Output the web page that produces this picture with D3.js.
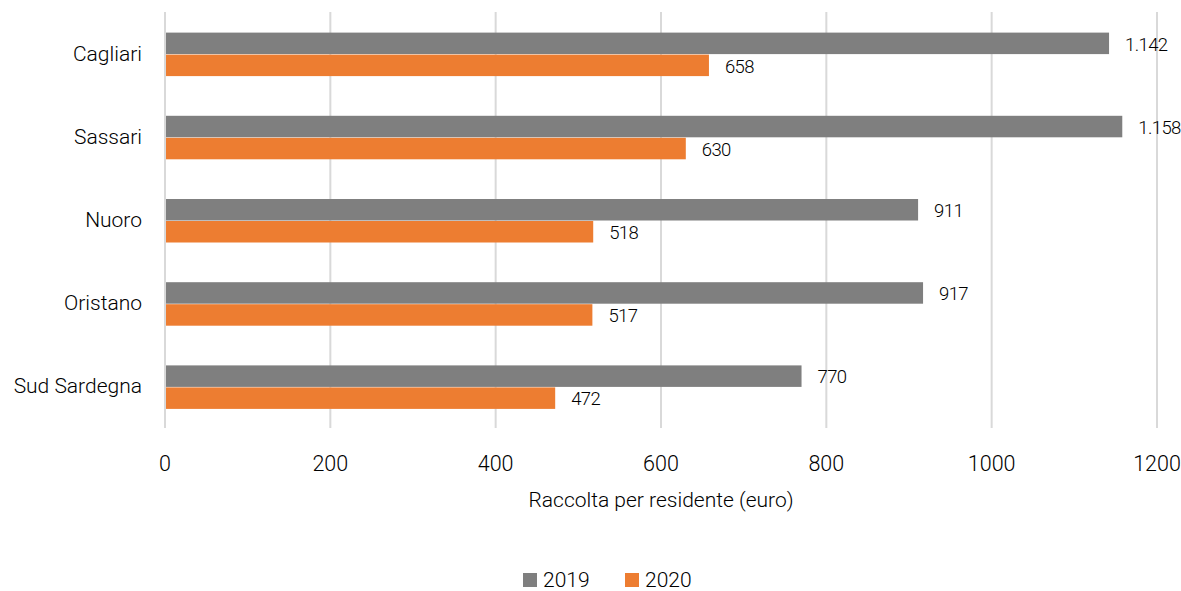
<!DOCTYPE html>
<html><head><meta charset="utf-8">
<script src="https://cdn.jsdelivr.net/npm/d3@7/dist/d3.min.js"></script>
<style>body{margin:0;background:#fff;} text{font-family:Roboto, Lato, sans-serif; font-weight:300; fill:#000;}</style>
</head><body><svg id="c" width="1181" height="591"></svg>
<script>
const categories = ["Cagliari","Sassari","Nuoro","Oristano","Sud Sardegna"];
const series = ["2019","2020"];
const values2019 = [1142,1158,911,917,770];
const values2020 = [658,630,518,517,472];
const labels2019 = ["1.142","1.158","911","917","770"];
const labels2020 = ["658","630","518","517","472"];
const tickValues = [0,200,400,600,800,1000,1200];
const colors = ["#7f7f7f","#ed7d31"];

const svg = d3.select("#c");
const x = d3.scaleLinear().domain([0,1200]).range([165,1157]);
const y = d3.scaleBand().domain(categories).range([12,428]).paddingInner(0).paddingOuter(0);
const sub = d3.scaleBand().domain(series).range([0,44]);
const bandH = y.bandwidth();

svg.append("g").selectAll("line").data(tickValues).join("line")
  .attr("x1",d=>x(d)).attr("x2",d=>x(d)).attr("y1",12).attr("y2",428)
  .attr("stroke","#d9d9d9").attr("stroke-width",2);

svg.append("g").selectAll("text").data(tickValues).join("text")
  .attr("x",d=>x(d)).attr("y",471).attr("text-anchor","middle")
  .style("font-size","21.5px").text(d=>d);

const data = [values2019, values2020];
const labs = [labels2019, labels2020];
series.forEach((s,si)=>{
  const g = svg.append("g");
  g.selectAll("rect").data(categories).join("rect")
    .attr("x",x(0)+1).attr("y",(c)=>y(c)+bandH/2-21+sub(s))
    .attr("width",(c,i)=>x(data[si][i])-x(0)-1).attr("height",sub.bandwidth()-0.5)
    .attr("fill",colors[si]);
  g.selectAll("text").data(categories).join("text")
    .attr("x",(c,i)=>x(data[si][i])+16).attr("y",(c)=>y(c)+bandH/2-21+sub(s)+sub.bandwidth()/2+7)
    .style("font-size","18.5px").style("letter-spacing","-0.6px").text((c,i)=>labs[si][i]);
});

svg.append("g").selectAll("text").data(categories).join("text")
  .attr("x",142).attr("y",c=>y(c)+bandH/2+7).attr("text-anchor","end")
  .style("font-size","21px").text(c=>c);

svg.append("text").attr("x",661).attr("y",507).attr("text-anchor","middle")
  .style("font-size","21px").text("Raccolta per residente (euro)");

const leg = [{k:"2019",x:523},{k:"2020",x:625}];
leg.forEach((l,i)=>{
  svg.append("rect").attr("x",l.x).attr("y",573).attr("width",14).attr("height",14).attr("fill",colors[i]);
  svg.append("text").attr("x",l.x+20).attr("y",587).style("font-size","21px").text(l.k);
});
</script></body></html>
